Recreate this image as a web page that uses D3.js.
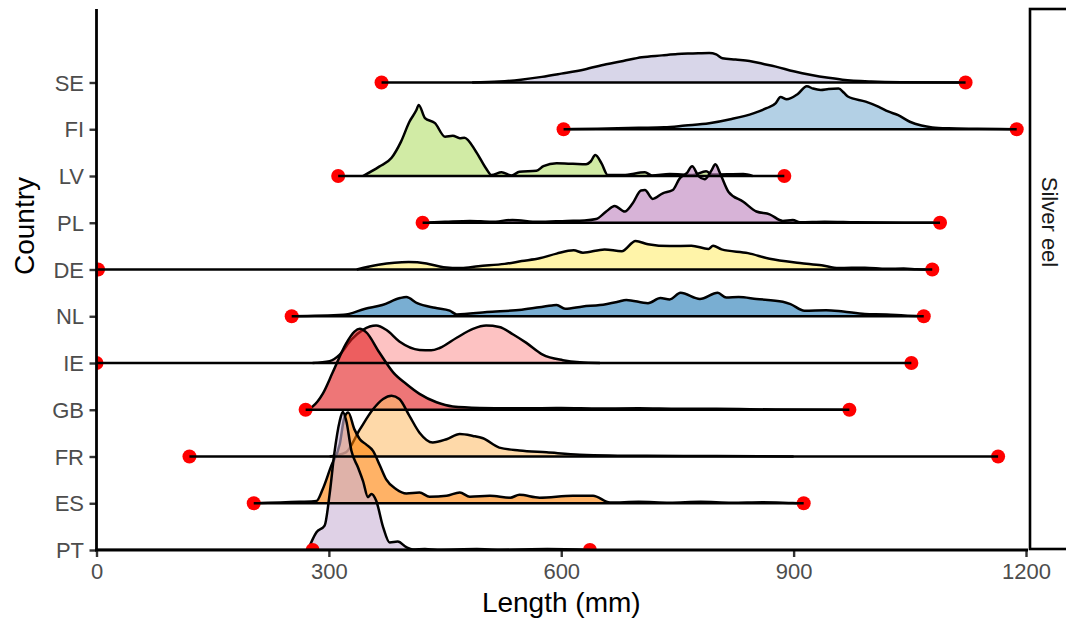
<!DOCTYPE html>
<html><head><meta charset="utf-8">
<script src="https://cdn.jsdelivr.net/npm/d3@7"></script>
<style>body{margin:0;background:#fff;} svg{display:block;font-family:"Liberation Sans",Arial,Helvetica,sans-serif;}</style>
</head><body><svg id="c" width="1066" height="621"></svg>
<script>
// Countries, top row to bottom row
const countries = ["SE","FI","LV","PL","DE","NL","IE","GB","FR","ES","PT"];
const fillColors = ["#BEBADA","#80B1D3","#B3DE69","#BC80BD","#FFED6F","#1F78B4","#FB9A99","#E31A1C","#FDBF6F","#FF7F00","#CAB2D6"];
const minLength = [368,603,312,421,2,252,0,270,120,203,279];
const maxLength = [1122,1188,888,1089,1079,1068,1052,972,1164,913,637];
const lineStart = [368,603,312,421,2,252,0,270,120,203,0];
const xTicks = [0,300,600,900,1200];
const facetLabel = "Silver eel";

// Ridge profiles: [length (mm), height in row units]
const densSE = [[485,0],[520,0.02],[548,0.06],[575,0.12],[600,0.19],[630,0.28],[658,0.39],[680,0.46],[704,0.54],[730,0.58],[750,0.61],[770,0.62],[791,0.63],[800,0.6],[808,0.52],[825,0.49],[843,0.46],[860,0.4],[877,0.34],[900,0.24],[923,0.16],[945,0.1],[963,0.06],[1000,0.02],[1038,0.005],[1120,0]];
const densFI = [[601,0],[647,0.01],[700,0.03],[733,0.04],[760,0.08],[791,0.13],[820,0.22],[848,0.34],[865,0.45],[877,0.56],[883,0.69],[891,0.64],[905,0.75],[917,0.92],[925,0.87],[935,0.84],[945,0.86],[958,0.87],[965,0.78],[970,0.7],[993,0.59],[1010,0.48],[1022,0.38],[1035,0.3],[1050,0.16],[1065,0.08],[1079,0.04],[1100,0.02],[1137,0.01],[1186,0]];
const densLV = [[344,0],[365,0.2],[381,0.39],[393,0.73],[404,1.16],[413,1.41],[416,1.52],[424,1.24],[437,1.13],[450,0.84],[460,0.86],[469,0.81],[475,0.82],[490,0.52],[503,0.16],[510,0.02],[523,0.08],[536,0.01],[546,0.09],[568,0.11],[577,0.21],[594,0.27],[615,0.26],[632,0.25],[638,0.31],[644,0.45],[652,0.27],[660,0.02],[680,0.02],[708,0.08],[717,0.01],[740,0.04],[770,0.02],[787,0.1],[795,0.03],[835,0.04],[847,0]];
const densPL = [[421,0],[450,0.02],[482,0.04],[510,0.02],[537,0.06],[570,0.02],[607,0.04],[630,0.05],[645,0.08],[658,0.24],[669,0.36],[682,0.24],[692,0.41],[703,0.69],[708,0.7],[718,0.51],[731,0.63],[744,0.7],[753,0.95],[762,1.06],[769,1.21],[777,1.0],[785,0.93],[794,1.12],[799,1.25],[805,1.06],[816,0.66],[835,0.45],[852,0.24],[869,0.18],[886,0.04],[899,0.06],[908,0.01],[940,0.02],[980,0.01],[1087,0]];
const densDE = [[336,0],[364,0.1],[403,0.16],[426,0.13],[448,0.05],[471,0.03],[493,0.07],[527,0.12],[549,0.18],[572,0.24],[594,0.34],[616,0.41],[628,0.36],[656,0.43],[678,0.39],[696,0.61],[712,0.54],[740,0.5],[768,0.51],[790,0.44],[796,0.51],[807,0.43],[841,0.35],[869,0.23],[908,0.14],[936,0.09],[958,0.03],[992,0.04],[1020,0.015],[1042,0.02],[1059,0.005],[1076,0]];
const densNL = [[251,0],[319,0.03],[347,0.16],[369,0.24],[392,0.39],[400,0.41],[414,0.28],[437,0.18],[456,0.12],[465,0.04],[504,0.09],[549,0.14],[588,0.23],[594,0.24],[605,0.16],[628,0.21],[650,0.24],[673,0.31],[684,0.35],[712,0.28],[728,0.39],[740,0.36],[754,0.5],[779,0.37],[802,0.5],[813,0.4],[829,0.41],[852,0.37],[886,0.31],[896,0.26],[914,0.12],[942,0.13],[964,0.1],[992,0.05],[1020,0.04],[1043,0.015],[1066,0]];
const densIE = [[279,0],[301,0.04],[314,0.18],[329,0.5],[344,0.71],[361,0.8],[374,0.71],[391,0.46],[417,0.28],[432,0.27],[443,0.32],[465,0.54],[486,0.73],[503,0.8],[520,0.77],[538,0.61],[555,0.43],[576,0.18],[602,0.06],[624,0.015],[650,0]];
const densGB = [[269,0],[279,0.07],[292,0.34],[305,0.8],[322,1.41],[333,1.67],[340,1.73],[348,1.66],[365,1.23],[383,0.8],[400,0.55],[417,0.34],[439,0.16],[460,0.07],[495,0.04],[550,0.03],[600,0.035],[650,0.025],[700,0.03],[753,0.02],[800,0.02],[877,0.005],[969,0]];
const densFR = [[301,0],[322,0.09],[340,0.58],[357,1.01],[370,1.23],[381,1.3],[391,1.23],[404,0.87],[417,0.51],[434,0.3],[452,0.37],[469,0.48],[486,0.44],[499,0.39],[520,0.19],[546,0.13],[581,0.09],[624,0.04],[710,0.015],[800,0.01],[900,0]];
const densES = [[202,0],[262,0.03],[284,0.05],[292,0.3],[303,0.8],[314,1.26],[320,1.83],[325,1.94],[333,1.58],[340,1.37],[348,1.26],[357,1.12],[366,0.8],[374,0.51],[387,0.3],[400,0.21],[417,0.23],[430,0.14],[452,0.16],[469,0.23],[482,0.14],[508,0.16],[534,0.12],[546,0.18],[572,0.12],[615,0.16],[641,0.16],[663,0.015],[700,0.03],[740,0.01],[780,0.03],[820,0.01],[860,0.02],[899,0.005],[912,0]];
const densPT = [[273,0],[284,0.38],[294.5,0.52],[301,1.2],[307,2.06],[314,2.76],[318,2.95],[322.5,2.76],[329,2.13],[337.5,1.77],[344,1.48],[350.5,1.13],[355,1.2],[361,1.06],[370,0.49],[378.5,0.16],[389,0.18],[400,0.06],[408.5,0.01],[424,0.02],[440,0],[491,0.02],[520,0],[582,0.02],[637,0]];

const ridgeData = {SE:densSE,FI:densFI,LV:densLV,PL:densPL,DE:densDE,NL:densNL,IE:densIE,GB:densGB,FR:densFR,ES:densES,PT:densPT};

const svg = d3.select("#c");
const P = {left:96.5, right:1028, top:9, bottom:550};
const x = d3.scaleLinear().domain([0,1200]).range([96.5,1026]);
const nRows = countries.length;
// row index: 0 = bottom row (PT)
const y = d3.scaleLinear().domain([0,11.572]).range([P.bottom, P.top]);
const rowIdx = c => nRows - 1 - countries.indexOf(c);

svg.append("defs").append("clipPath").attr("id","panel")
  .append("rect").attr("x",P.left).attr("y",P.top).attr("width",P.right-P.left).attr("height",P.bottom-P.top+0.5);

const g = svg.append("g").attr("clip-path","url(#panel)");

countries.forEach((c,i)=>{
  const r = rowIdx(c);
  const d = ridgeData[c];
  const area = d3.area().x(p=>x(p[0])).y0(y(r)).y1(p=>y(r+p[1])).curve(d3.curveMonotoneX);
  const line = d3.line().x(p=>x(p[0])).y(p=>y(r+p[1])).curve(d3.curveMonotoneX);
  g.append("path").attr("d",area(d)).attr("fill",fillColors[i]).attr("fill-opacity",0.6).attr("stroke","none");
  g.append("path").attr("d",line(d)).attr("fill","none").attr("stroke","#000").attr("stroke-width",2.5).attr("stroke-linejoin","round");
});

// points
countries.forEach((c,i)=>{
  const r = rowIdx(c);
  [minLength[i],maxLength[i]].forEach(v=>{
    g.append("circle").attr("cx",x(v)).attr("cy",y(r)).attr("r",7).attr("fill","#ff0000");
  });
});
// segments
countries.forEach((c,i)=>{
  const r = rowIdx(c);
  g.append("line").attr("x1",x(lineStart[i])).attr("x2",x(maxLength[i])).attr("y1",y(r)).attr("y2",y(r))
    .attr("stroke","#000").attr("stroke-width",2.6);
});

// axes
const yAxis = d3.axisLeft(y).tickValues(d3.range(nRows)).tickFormat(i=>countries[nRows-1-i]).tickSize(7).tickPadding(5.5);
const ya = svg.append("g").attr("transform",`translate(${P.left},0)`).call(yAxis);
ya.select(".domain").remove();
ya.append("line").attr("x1",0).attr("x2",0).attr("y1",P.top).attr("y2",P.bottom+1.4).attr("stroke","#000").attr("stroke-width",2.8);
ya.selectAll(".tick line").attr("stroke","#333").attr("stroke-width",2.4);
ya.selectAll(".tick text").attr("fill","#4d4d4d").style("font-size","22px").attr("dy","0.35em");

const xAxis = d3.axisBottom(x).tickValues(xTicks).tickFormat(d3.format("d")).tickSize(7).tickPadding(6.5);
const xa = svg.append("g").attr("transform",`translate(0,${P.bottom})`).call(xAxis);
xa.select(".domain").remove();
xa.append("line").attr("x1",P.left-1.4).attr("x2",P.right).attr("y1",0).attr("y2",0).attr("stroke","#000").attr("stroke-width",2.8);
xa.selectAll(".tick line").attr("stroke","#333").attr("stroke-width",2.4);
xa.selectAll(".tick text").attr("fill","#4d4d4d").style("font-size","22px");

// facet strip
svg.append("rect").attr("x",1030).attr("y",P.top).attr("width",60).attr("height",P.bottom-P.top-1)
  .attr("fill","#fff").attr("stroke","#000").attr("stroke-width",2.6);
svg.append("text").attr("transform","translate(1042,222) rotate(90)").attr("text-anchor","middle")
  .attr("fill","#1a1a1a").style("font-size","22px").text(facetLabel);

// titles
svg.append("text").attr("x",(x(0)+x(1200))/2).attr("y",612).attr("text-anchor","middle")
  .attr("fill","#000").style("font-size","28px").text("Length (mm)");
svg.append("text").attr("transform","translate(34,226) rotate(-90)").attr("text-anchor","middle")
  .attr("fill","#000").style("font-size","28px").text("Country");
</script></body></html>
